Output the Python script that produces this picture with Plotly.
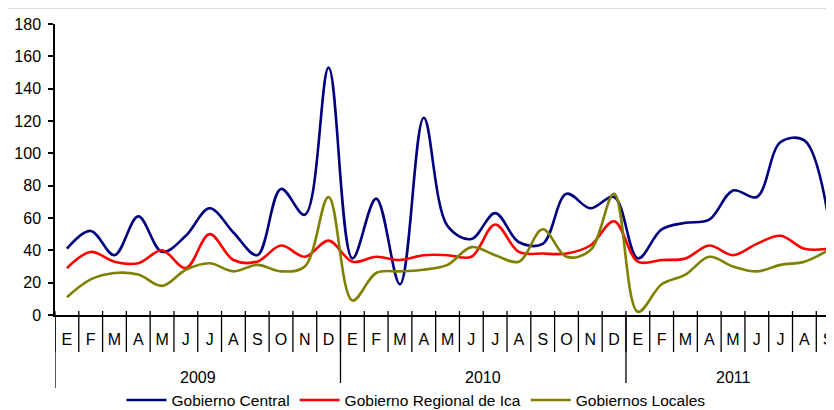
import plotly.graph_objects as go

months = ["E","F","M","A","M","J","J","A","S","O","N","D",
          "E","F","M","A","M","J","J","A","S","O","N","D",
          "E","F","M","A","M","J","J","A","S"]
years = ["2009", "2010", "2011"]
year_months = [12, 12, 9]

gobierno_central = [41, 52, 37, 61, 39, 49, 66, 51, 37, 78, 62, 153,
                    35, 72, 19, 122, 55, 47, 63, 45, 44, 75, 66, 73,
                    35, 53, 57, 59, 77, 73, 107, 108, 61]
gobierno_regional = [29, 39, 33, 32, 40, 29, 50, 34, 33, 43, 36, 46,
                     33, 36, 34, 37, 37, 36, 56, 39, 38, 38, 43, 58,
                     33, 34, 35, 43, 37, 44, 49, 41, 41]
gobiernos_locales = [11, 22, 26, 25, 18, 28, 32, 27, 31, 27, 30, 73,
                     9, 26, 27, 28, 31, 42, 37, 33, 53, 36, 40, 75,
                     2, 19, 25, 36, 30, 27, 31, 33, 40]

series = [
    ("Gobierno Central", gobierno_central, "#000080"),
    ("Gobierno Regional de Ica", gobierno_regional, "#FF0000"),
    ("Gobiernos Locales", gobiernos_locales, "#808000"),
]

idx = list(range(len(months)))
fig = go.Figure()
for name, vals, col in series:
    fig.add_trace(go.Scatter(x=idx, y=vals, mode="lines", name=name,
                             line=dict(color=col, width=2.6, shape="spline", smoothing=1.0)))

FONT = "Liberation Sans, Arial, sans-serif"
PLOT_H = 291.0
def py(px):
    # reference pixel row -> paper coordinate of the plot area
    return (315.0 - px) / PLOT_H

shapes = []
# month separators
for i in range(len(months) + 1):
    shapes.append(dict(type="line", xref="x", yref="paper", x0=i - 0.5, x1=i - 0.5,
                       y0=py(311), y1=py(352), line=dict(color="black", width=1.3)))
# year dividers
start = 0
for n in year_months:
    shapes.append(dict(type="line", xref="x", yref="paper", x0=start - 0.5, x1=start - 0.5,
                       y0=py(315), y1=py(388), line=dict(color="black", width=1.3)))
    start += n
# top border line
shapes.append(dict(type="line", xref="paper", yref="paper", x0=-0.08, x1=1.02,
                   y0=py(8), y1=py(8), line=dict(color="#dcdcdc", width=2)))

annotations = []
start = 0
for y, n in zip(years, year_months):
    annotations.append(dict(x=start + (n - 1) / 2.0, y=py(377), xref="x", yref="paper",
                            text=y, showarrow=False, xanchor="center", yanchor="middle",
                            font=dict(family=FONT, size=16, color="black")))
    start += n

fig.update_layout(
    width=826, height=402,
    margin=dict(l=47, r=0, t=16, b=95),
    paper_bgcolor="white", plot_bgcolor="white",
    showlegend=True,
    legend=dict(orientation="h", xref="container", yref="container",
                x=0.494, xanchor="center", y=0.024, yanchor="middle",
                font=dict(family=FONT, size=15.5, color="black"),
                itemwidth=40, tracegroupgap=0),
    shapes=shapes, annotations=annotations,
)
fig.update_xaxes(range=[-0.5, 32.16], tickmode="array", tickvals=idx, ticktext=months,
                 ticks="", showgrid=False, zeroline=False, showline=True,
                 linecolor="black", linewidth=2, ticklabelstandoff=9,
                 ticklabeloverflow="allow",
                 tickfont=dict(family=FONT, size=16, color="black"))
fig.update_yaxes(range=[0, 180], dtick=20, tick0=0, ticks="outside", ticklen=5,
                 tickcolor="black", tickwidth=1.5, showgrid=False, zeroline=False,
                 showline=True, linecolor="black", linewidth=1.5, ticklabelstandoff=4,
                 tickfont=dict(family=FONT, size=16, color="black"))

fig.write_html("out.html")
